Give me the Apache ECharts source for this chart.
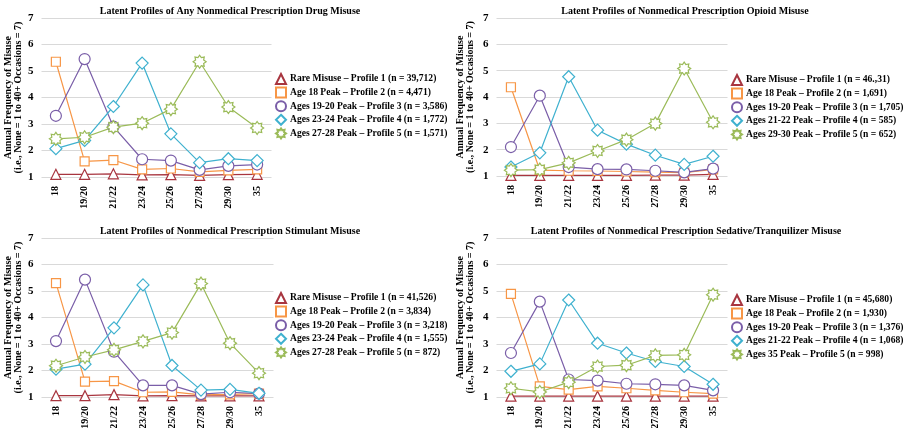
<!DOCTYPE html>
<html>
<head>
<meta charset="utf-8">
<script src="https://cdn.jsdelivr.net/npm/echarts@6/dist/echarts.min.js"></script>
<style>
html, body { margin: 0; padding: 0; background: #fff; }
#main { width: 905px; height: 428px; }
</style>
</head>
<body>
<div id="main"></div>
<script>
var categories = ['18', '19/20', '21/22', '23/24', '25/26', '27/28', '29/30', '35'];
var yTicks = [1, 2, 3, 4, 5, 6, 7];

// any drug
var drugNames = ['Rare Misuse \u2013 Profile 1 (n = 39,712)', 'Age 18 Peak \u2013 Profile 2 (n = 4,471)',
    'Ages 19-20 Peak \u2013 Profile 3 (n = 3,586)', 'Ages 23-24 Peak \u2013 Profile 4 (n = 1,772)',
    'Ages 27-28 Peak \u2013 Profile 5 (n = 1,571)'];
var drugP1 = [1.10, 1.10, 1.12, 1.08, 1.09, 1.06, 1.09, 1.10];
var drugP2 = [5.35, 1.59, 1.64, 1.29, 1.32, 1.19, 1.25, 1.29];
var drugP3 = [3.31, 5.45, 2.90, 1.67, 1.62, 1.27, 1.42, 1.47];
var drugP4 = [2.07, 2.38, 3.66, 5.30, 2.63, 1.54, 1.69, 1.62];
var drugP5 = [2.44, 2.50, 2.88, 3.03, 3.56, 5.35, 3.64, 2.85];

// opioid
var opioidNames = ['Rare Misuse \u2013 Profile 1 (n = 46.,31)', 'Age 18 Peak \u2013 Profile 2 (n = 1,691)',
    'Ages 19-20 Peak \u2013 Profile 3 (n = 1,705)', 'Ages 21-22 Peak \u2013 Profile 4 (n = 585)',
    'Ages 29-30 Peak \u2013 Profile 5 (n = 652)'];
var opioidP1 = [1.02, 1.02, 1.02, 1.02, 1.02, 1.03, 1.03, 1.06];
var opioidP2 = [4.37, 1.22, 1.20, 1.19, 1.17, 1.15, 1.13, 1.25];
var opioidP3 = [2.10, 4.05, 1.34, 1.26, 1.25, 1.20, 1.14, 1.28];
var opioidP4 = [1.34, 1.88, 4.77, 2.74, 2.21, 1.79, 1.44, 1.75];
var opioidP5 = [1.22, 1.24, 1.50, 1.95, 2.38, 2.99, 5.08, 3.04];

// stimulant
var stimNames = ['Rare Misuse \u2013 Profile 1 (n = 41,526)', 'Age 18 Peak \u2013 Profile 2 (n = 3,834)',
    'Ages 19-20 Peak \u2013 Profile 3 (n = 3,218)', 'Ages 23-24 Peak \u2013 Profile 4 (n = 1,555)',
    'Ages 27-28 Peak \u2013 Profile 5 (n = 872)'];
var stimP1 = [1.05, 1.05, 1.09, 1.04, 1.05, 1.04, 1.04, 1.04];
var stimP2 = [5.30, 1.58, 1.60, 1.18, 1.19, 1.08, 1.10, 1.13];
var stimP3 = [3.11, 5.43, 2.71, 1.44, 1.44, 1.11, 1.18, 1.13];
var stimP4 = [2.05, 2.24, 3.61, 5.23, 2.19, 1.26, 1.29, 1.14];
var stimP5 = [2.18, 2.51, 2.78, 3.10, 3.43, 5.28, 3.03, 1.90];

// sedative / tranquilizer
var sedNames = ['Rare Misuse \u2013 Profile 1 (n = 45,680)', 'Age 18 Peak \u2013 Profile 2 (n = 1,930)',
    'Ages 19-20 Peak \u2013 Profile 3 (n = 1,376)', 'Ages 21-22 Peak \u2013 Profile 4 (n = 1,068)',
    'Ages 35 Peak \u2013 Profile 5 (n = 998)'];
var sedP1 = [1.03, 1.03, 1.03, 1.03, 1.03, 1.03, 1.03, 1.03];
var sedP2 = [4.89, 1.40, 1.28, 1.40, 1.33, 1.25, 1.18, 1.13];
var sedP3 = [2.66, 4.60, 1.66, 1.62, 1.50, 1.48, 1.44, 1.25];
var sedP4 = [1.97, 2.25, 4.66, 3.03, 2.66, 2.34, 2.15, 1.48];
var sedP5 = [1.33, 1.19, 1.56, 2.15, 2.20, 2.57, 2.59, 4.86];

var titles = ['Latent Profiles of Any Nonmedical Prescription Drug Misuse',
    'Latent Profiles of Nonmedical Prescription Opioid Misuse',
    'Latent Profiles of Nonmedical Prescription Stimulant Misuse',
    'Latent Profiles of Nonmedical Prescription Sedative/Tranquilizer Misuse'];

var panels = [
    { names: drugNames, data: [drugP1, drugP2, drugP3, drugP4, drugP5] },
    { names: opioidNames, data: [opioidP1, opioidP2, opioidP3, opioidP4, opioidP5] },
    { names: stimNames, data: [stimP1, stimP2, stimP3, stimP4, stimP5] },
    { names: sedNames, data: [sedP1, sedP2, sedP3, sedP4, sedP5] }
];

var colors = ['#a8353f', '#f79646', '#7a5ea8', '#3fb1cf', '#9bbb59'];
var star = 'path://M0,-10 L2.6,-6.2 L7.1,-7.1 L6.2,-2.6 L10,0 L6.2,2.6 L7.1,7.1 L2.6,6.2 L0,10 L-2.6,6.2 L-7.1,7.1 L-6.2,2.6 L-10,0 L-6.2,-2.6 L-7.1,-7.1 L-2.6,-6.2 Z';
var symbols = ['triangle', 'rect', 'circle', 'diamond', star];
var sizes = [10, 9, 11, 12, 13];

var font = 'Liberation Serif';
var grids = [
    { left: 41.5, top: 18, width: 230, height: 159 },
    { left: 496.5, top: 18, width: 231, height: 158 },
    { left: 41.5, top: 238, width: 232, height: 159 },
    { left: 496.5, top: 238, width: 231, height: 159 }
];
var nameGaps = [18, 21, 18, 21];
var titlePos = [[225, 1], [680, 1], [225, 221], [681, 221]];
var legendPos = [[275, 73], [731, 74], [275, 292], [731, 294]];

var dom = document.getElementById('main');
var myChart = echarts.init(dom);

var option = {
    backgroundColor: '#fff',
    animation: false,
    title: [],
    legend: [],
    grid: grids.map(function (g) {
        return { left: g.left, top: g.top, width: g.width, height: g.height, containLabel: false, outerBoundsMode: 'none' };
    }),
    xAxis: [],
    yAxis: [],
    series: []
};

panels.forEach(function (p, i) {
    option.title.push({
        text: titles[i],
        left: titlePos[i][0],
        top: titlePos[i][1],
        textAlign: 'center',
        textStyle: { fontFamily: font, fontWeight: 'bold', fontSize: 10, color: '#000' }
    });
    option.legend.push({
        orient: 'vertical',
        left: legendPos[i][0],
        top: legendPos[i][1],
        itemWidth: 10,
        itemHeight: 10,
        itemGap: 1.6,
        padding: 0,
        lineStyle: { width: 0 },
        textStyle: { fontFamily: font, fontWeight: 'bold', fontSize: 9.6, color: '#000', padding: [0, 0, 0, -1] },
        data: p.names.map(function (n, k) {
            return { name: n, icon: symbols[k] };
        })
    });
    option.xAxis.push({
        type: 'category',
        gridIndex: i,
        data: categories,
        axisLine: { show: false },
        axisTick: { show: false },
        axisLabel: { rotate: 90, fontFamily: font, fontWeight: 'bold', fontSize: 10, color: '#000', margin: 9 }
    });
    option.yAxis.push({
        type: 'value',
        gridIndex: i,
        min: yTicks[0],
        max: yTicks[yTicks.length - 1],
        interval: 1,
        name: 'Annual Frequency of Misuse\n(i.e., None = 1 to 40+ Occasions = 7)',
        nameLocation: 'middle',
        nameRotate: 90,
        nameGap: nameGaps[i],
        nameTextStyle: { fontFamily: font, fontWeight: 'bold', fontSize: 10, color: '#000', lineHeight: 10 },
        axisLine: { show: false },
        axisTick: { show: false },
        splitLine: { lineStyle: { color: '#d9d9d9', width: 1 } },
        axisLabel: { fontFamily: font, fontWeight: 'bold', fontSize: 11, color: '#000', margin: 8 }
    });
    p.data.forEach(function (vals, k) {
        option.series.push({
            name: p.names[k],
            type: 'line',
            xAxisIndex: i,
            yAxisIndex: i,
            data: vals,
            symbol: symbols[k],
            symbolSize: sizes[k],
            showAllSymbol: true,
            lineStyle: { color: colors[k], width: 1.2 },
            itemStyle: { color: '#fff', borderColor: colors[k], borderWidth: 1.2 },
            emphasis: { disabled: true }
        });
    });
});

if (option && typeof option === 'object') {
    myChart.setOption(option, true);
}
</script>
</body>
</html>
